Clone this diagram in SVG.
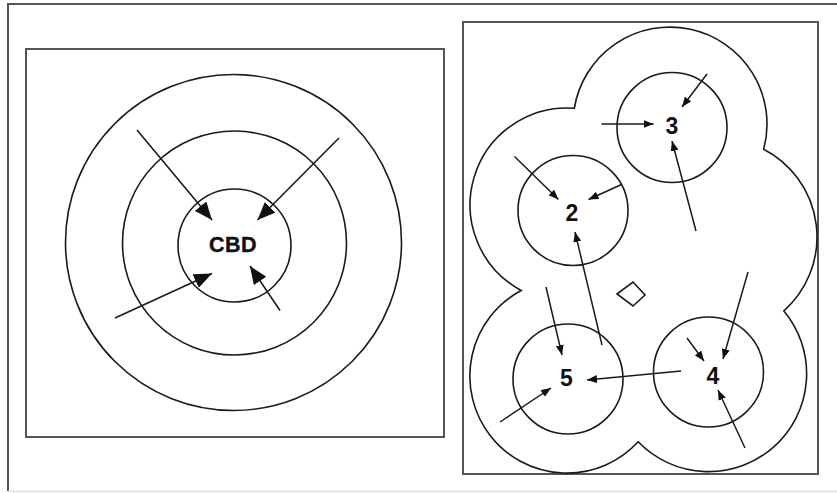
<svg xmlns="http://www.w3.org/2000/svg" width="837" height="493" viewBox="0 0 837 493">
<style>
.frame{fill:none;stroke:#555;stroke-width:2}
.ring{fill:none;stroke:#1a1a1a;stroke-width:1.6}
.big{stroke:#1a1a1a;stroke-width:1.6;fill:none;marker-end:url(#ah-big)}
.sm{stroke:#1a1a1a;stroke-width:1.5;fill:none;marker-end:url(#ah-sm)}
.lbl{font-family:"Liberation Sans",Arial,sans-serif;font-weight:bold;fill:#111;text-anchor:middle}
</style>
<defs>
<marker id="ah-big" markerUnits="userSpaceOnUse" markerWidth="18" markerHeight="15" refX="18" refY="7.5" orient="auto">
<path d="M0,0 L18,7.5 L0,15 z" fill="#111"/>
</marker>
<marker id="ah-sm" markerUnits="userSpaceOnUse" markerWidth="10" markerHeight="8" refX="10" refY="4" orient="auto">
<path d="M0,0 L10,4 L0,8 z" fill="#111"/>
</marker>
</defs>
<rect width="837" height="493" fill="#fff"/>
<g id="outer-frame">
<path d="M8,491 V4 H837" fill="none" stroke="#555" stroke-width="2"/>
<line x1="8" y1="491.5" x2="837" y2="491.5" stroke="#ddd" stroke-width="1.5"/>
</g>
<g id="panel-concentric">
<rect class="frame" x="26" y="49" width="418" height="388"/>
<circle class="ring" cx="233.5" cy="242.5" r="168"/>
<circle class="ring" cx="234.5" cy="243" r="112"/>
<g id="cbd">
<circle class="ring" cx="234.5" cy="245.5" r="56.5"/>
<text class="lbl" x="233" y="252" font-size="21.5" stroke="#111" stroke-width="0.4" letter-spacing="0.5">CBD</text>
</g>
</g>
<g id="panel-multiple-nuclei">
<rect class="frame" x="463" y="22" width="355" height="452"/>
<path class="ring" d="M574.3,108.3 A97,97 0 1 1 763.7,149.2 A99,99 0 0 1 783.9,310.9 A98,98 0 0 1 638.2,441.8 A97,97 0 1 1 521.2,290.5 A97,97 0 0 1 574.3,108.3 Z"/>
<polygon class="ring" points="617,294 633,282 645,295 633,306"/>
<g id="node-3">
<circle class="ring" cx="672" cy="127.5" r="55"/>
<text class="lbl" x="672" y="134" font-size="23">3</text>
</g>
<g id="node-2">
<circle class="ring" cx="573" cy="210.5" r="55"/>
<text class="lbl" x="572" y="221" font-size="23">2</text>
</g>
<g id="node-5">
<circle class="ring" cx="568" cy="379" r="55"/>
<text class="lbl" x="566.5" y="386" font-size="23">5</text>
</g>
<g id="node-4">
<circle class="ring" cx="708.5" cy="372" r="55"/>
<text class="lbl" x="713" y="383.5" font-size="23">4</text>
</g>
</g>
<g id="connectors">
<line class="big" x1="137" y1="130" x2="212" y2="220"/>
<line class="big" x1="339" y1="138" x2="257.5" y2="220"/>
<line class="big" x1="115" y1="318" x2="212" y2="273.5"/>
<line class="big" x1="280" y1="310.5" x2="250" y2="266"/>
<line class="sm" x1="707" y1="74" x2="682" y2="107"/>
<line class="sm" x1="601.5" y1="124" x2="653.5" y2="124"/>
<line class="sm" x1="696" y1="231" x2="672" y2="141"/>
<line class="sm" x1="514.5" y1="156.5" x2="558.5" y2="199.5"/>
<line class="sm" x1="621.5" y1="184.5" x2="588.5" y2="199.5"/>
<line class="sm" x1="602" y1="345" x2="575" y2="232"/>
<line class="sm" x1="546" y1="287" x2="562" y2="355"/>
<line class="sm" x1="500" y1="422" x2="551" y2="388"/>
<line class="sm" x1="681" y1="371" x2="587" y2="380"/>
<line class="sm" x1="687" y1="338" x2="704" y2="361"/>
<line class="sm" x1="748" y1="272" x2="723" y2="359"/>
<line class="sm" x1="745" y1="448" x2="718" y2="390"/>
</g>
</svg>
